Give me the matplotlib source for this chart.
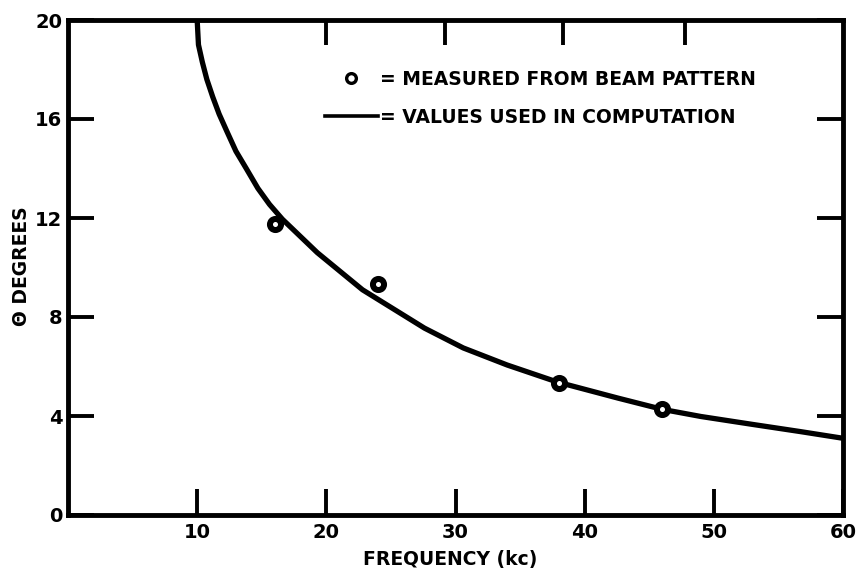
import matplotlib
matplotlib.use("Agg")
import matplotlib.pyplot as plt
from matplotlib.lines import Line2D

# curve "values used in computation"
freq_curve = [10, 10.1, 10.4, 10.75, 11.2, 11.7, 12.3, 13.0, 13.8, 14.7, 15.6,
              16.6, 19.3, 22.8, 27.6, 30.6, 34, 37.9, 42.6, 46, 49, 53, 56.7, 60]
theta_curve = [20, 19.0, 18.3, 17.6, 16.9, 16.2, 15.5, 14.7, 14.0, 13.2, 12.55,
               11.95, 10.6, 9.1, 7.55, 6.75, 6.06, 5.37, 4.72, 4.27, 3.98, 3.66,
               3.37, 3.1]

# measured from beam pattern
freq_meas = [16, 24, 38, 46]
theta_meas = [11.75, 9.35, 5.35, 4.3]

x_ticks = [10, 20, 30, 40, 50, 60]
y_ticks = [0, 4, 8, 12, 16, 20]
top_ticks = [20, 29.2, 38.3, 47.8]   # hand-drawn top marks sit a bit off-grid

plt.rcParams['font.family'] = ['DejaVu Sans']
plt.rcParams['font.weight'] = 'bold'

fig = plt.figure(figsize=(8.57, 5.70), dpi=100)
ax = fig.add_axes([68/857, 1 - 515/570, (843-68)/857, (515-20)/570])

ax.plot(freq_curve, theta_curve, color='black', lw=3.8,
        solid_capstyle='round', solid_joinstyle='round')
ax.plot(freq_meas, theta_meas, 'o', ms=8, mfc='white', mec='black', mew=4.3)

ax.set_xlim(0, 60)
ax.set_ylim(0, 20)
ax.set_xticks(x_ticks)
ax.set_yticks(y_ticks)
ax.tick_params(direction='in', length=19, width=2.8, labelsize=14, right=True)
ax.tick_params(axis='x', pad=6)
ax.tick_params(axis='y', pad=4)
for s in ax.spines.values():
    s.set_linewidth(3.5)

ax2 = ax.twiny()
ax2.set_xlim(0, 60)
ax2.set_xticks(top_ticks)
ax2.set_xticklabels([])
ax2.tick_params(direction='in', length=18, width=2.8)
for s in ax2.spines.values():
    s.set_visible(False)

h1 = Line2D([], [], ls='none', marker='o', ms=7, mfc='white', mec='black', mew=2.4)
h2 = Line2D([], [], color='black', lw=2.6)
ax.legend([h1, h2], ['= MEASURED FROM BEAM PATTERN', '= VALUES USED IN COMPUTATION'],
          loc='upper left', bbox_to_anchor=(325/857, 1 - 70/570),
          bbox_transform=fig.transFigure, frameon=False,
          handlelength=2.8, handletextpad=0.15, labelspacing=1.0,
          borderpad=0, borderaxespad=0,
          prop={'weight': 'bold', 'size': 13.5})

fig.text(22/857, 1 - 266/570, '\u0398 DEGREES', rotation=90, ha='center',
         va='center', fontsize=13.5, fontweight='bold')
fig.text(450/857, 1 - 559/570, 'FREQUENCY (kc)', ha='center', va='center',
         fontsize=13.5, fontweight='bold')

fig.savefig('out.png', dpi=100)
